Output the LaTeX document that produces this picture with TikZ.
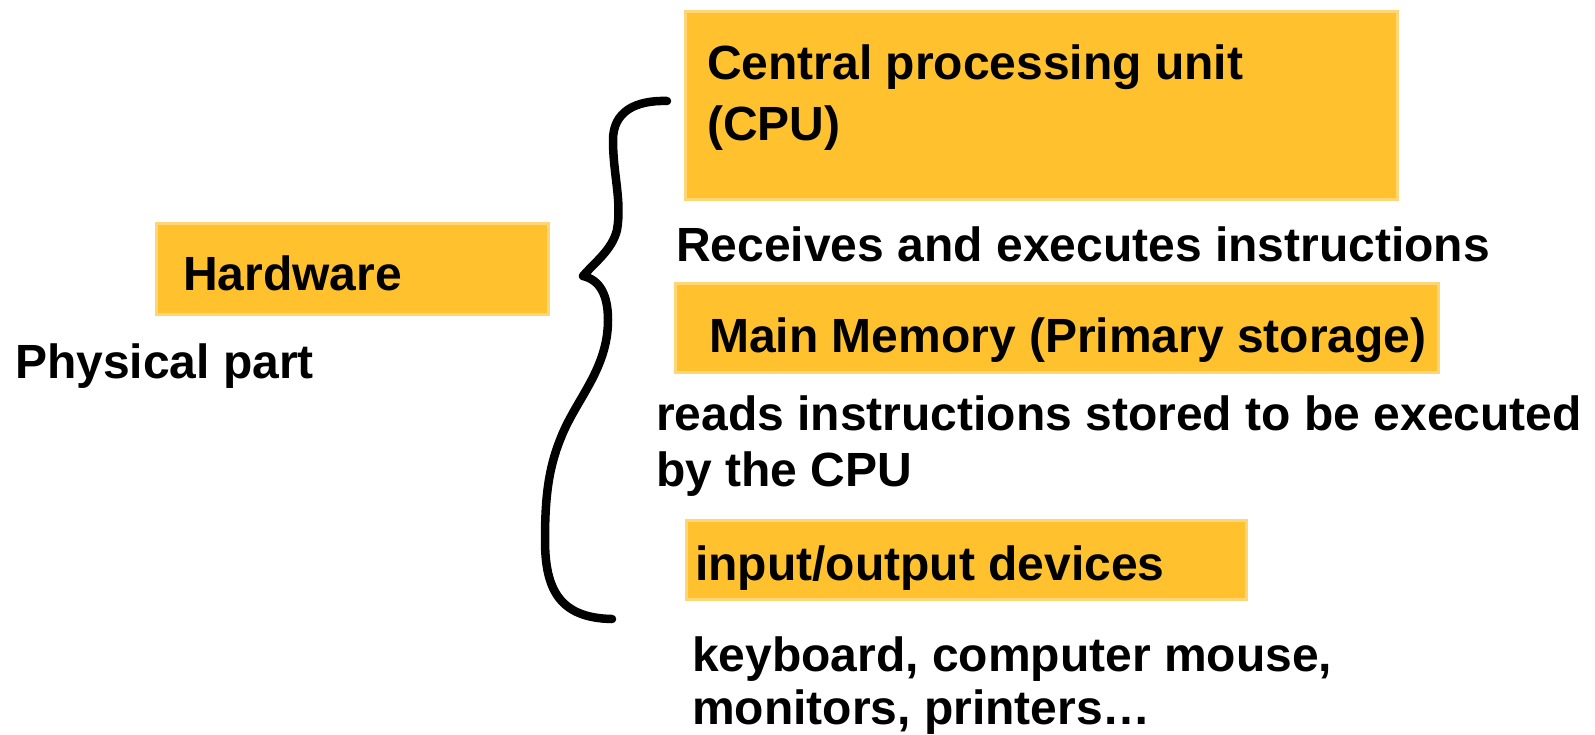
\documentclass[tikz,border=0pt]{standalone}
\usepackage{fontspec}
\setmainfont{Liberation Sans}
\definecolor{boxfill}{RGB}{255,194,46}
\definecolor{boxedge}{RGB}{254,214,120}
\begin{document}
\begin{tikzpicture}[x=1pt,y=-1pt,
  box/.style={fill=boxfill,draw=boxedge,line width=2.5pt,inner sep=0pt,anchor=north west},
  label/.style={anchor=base west,inner sep=0pt,font=\bfseries\fontsize{48}{56}\selectfont},
  bracestroke/.style={line width=8.5pt,line join=round,line cap=round,black}]
  % canvas
  \fill[white] (0,0) rectangle (1595,734);
  \useasboundingbox (0,0) rectangle (1595,734);

  % highlighted boxes
  \node[box,minimum width=712pt,minimum height=188pt] (cpubox) at (684,10) {};
  \node[box,minimum width=392pt,minimum height=91pt] (hwbox) at (155,222) {};
  \node[box,minimum width=763pt,minimum height=89pt] (membox) at (674,282) {};
  \node[box,minimum width=560pt,minimum height=79pt] (iobox) at (685,519) {};

  % texts
  \node[label] (cpu1) at (707,79) {Central processing unit};
  \node[label] (cpu2) at (707,140) {(CPU)};
  \node[label] (hw) at (183,290) {Hardware};
  \node[label] (phys) at (15,378) {Physical part};
  \node[label] (recv) at (676,261) {Receives and executes instructions};
  \node[label] (mem) at (709,352) {Main Memory (Primary storage)};
  \node[label] (reads1) at (656,430) {reads instructions stored to be executed};
  \node[label] (reads2) at (656,486) {by the CPU};
  \node[label] (io) at (695,580) {input/output devices};
  \node[label] (kb1) at (692,671) {keyboard, computer mouse,};
  \node[label] (kb2) at (692,724) {monitors, printers…};

  % hand-drawn curly brace
  \coordinate (btop) at (667,101);
  \coordinate (btip) at (583,276);
  \coordinate (bbot) at (612,619);
  \draw[bracestroke] (btop)
    .. controls (635,100) and (613,112) .. (613,140)
    .. controls (613,175) and (622,200) .. (617,230)
    .. controls (612,250) and (595,262) .. (btip)
    .. controls (600,280) and (608,295) .. (608,320)
    .. controls (608,370) and (575,400) .. (560,440)
    .. controls (548,470) and (545,500) .. (545,540)
    .. controls (545,590) and (560,618) .. (bbot);
\end{tikzpicture}
\end{document}
